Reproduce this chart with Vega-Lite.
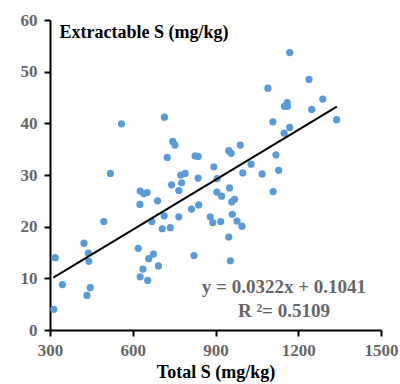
{
  "$schema": "https://vega.github.io/schema/vega-lite/v6.json",
  "autosize": "none",
  "width": 331,
  "height": 310,
  "padding": {"left": 50, "top": 20, "right": 19, "bottom": 54},
  "background": "white",
  "config": {
    "view": {"stroke": null},
    "font": "Liberation Serif",
    "axis": {
      "grid": false,
      "domainColor": "black",
      "domainWidth": 2,
      "tickColor": "black",
      "tickWidth": 2,
      "tickSize": 6,
      "labelFont": "Liberation Serif",
      "labelFontSize": 17,
      "labelFontWeight": "bold",
      "labelColor": "#666666",
      "titleFont": "Liberation Serif",
      "titleFontSize": 18,
      "titleFontWeight": "bold",
      "titleColor": "black"
    }
  },
  "layer": [
    {
      "data": {"values": [
        {"totalS": 559, "extS": 39.9}, {"totalS": 715, "extS": 41.2}, {"totalS": 745, "extS": 36.5},
        {"totalS": 753, "extS": 35.8}, {"totalS": 725, "extS": 33.4}, {"totalS": 519, "extS": 30.3},
        {"totalS": 826, "extS": 33.7}, {"totalS": 837, "extS": 33.6}, {"totalS": 837, "extS": 29.4},
        {"totalS": 774, "extS": 30.0}, {"totalS": 790, "extS": 30.3}, {"totalS": 741, "extS": 28.1},
        {"totalS": 777, "extS": 28.5}, {"totalS": 767, "extS": 27.0}, {"totalS": 627, "extS": 26.9},
        {"totalS": 652, "extS": 26.6}, {"totalS": 640, "extS": 26.4}, {"totalS": 690, "extS": 25.0},
        {"totalS": 1169, "extS": 53.7}, {"totalS": 1239, "extS": 48.5}, {"totalS": 1090, "extS": 46.8},
        {"totalS": 1289, "extS": 44.7}, {"totalS": 1160, "extS": 44.0}, {"totalS": 1150, "extS": 43.3},
        {"totalS": 1161, "extS": 43.3}, {"totalS": 1249, "extS": 42.7}, {"totalS": 1339, "extS": 40.7},
        {"totalS": 1108, "extS": 40.3}, {"totalS": 1169, "extS": 39.2}, {"totalS": 1149, "extS": 38.1},
        {"totalS": 990, "extS": 35.8}, {"totalS": 948, "extS": 34.7}, {"totalS": 957, "extS": 34.2},
        {"totalS": 1119, "extS": 33.9}, {"totalS": 1029, "extS": 32.1}, {"totalS": 894, "extS": 31.6},
        {"totalS": 999, "extS": 30.4}, {"totalS": 1069, "extS": 30.2}, {"totalS": 1129, "extS": 30.9},
        {"totalS": 906, "extS": 29.3}, {"totalS": 951, "extS": 27.5}, {"totalS": 905, "extS": 26.7},
        {"totalS": 922, "extS": 25.9}, {"totalS": 1109, "extS": 26.8}, {"totalS": 969, "extS": 25.3},
        {"totalS": 959, "extS": 24.8}, {"totalS": 626, "extS": 24.3}, {"totalS": 495, "extS": 21.0},
        {"totalS": 669, "extS": 21.0}, {"totalS": 714, "extS": 22.1}, {"totalS": 707, "extS": 19.6},
        {"totalS": 736, "extS": 19.8}, {"totalS": 767, "extS": 21.9}, {"totalS": 813, "extS": 23.4},
        {"totalS": 839, "extS": 24.2}, {"totalS": 423, "extS": 16.8}, {"totalS": 319, "extS": 14.0},
        {"totalS": 439, "extS": 14.9}, {"totalS": 441, "extS": 13.3}, {"totalS": 620, "extS": 15.8},
        {"totalS": 675, "extS": 14.7}, {"totalS": 658, "extS": 13.8}, {"totalS": 637, "extS": 11.8},
        {"totalS": 627, "extS": 10.3}, {"totalS": 654, "extS": 9.6}, {"totalS": 693, "extS": 12.4},
        {"totalS": 822, "extS": 14.4}, {"totalS": 345, "extS": 8.8}, {"totalS": 446, "extS": 8.2},
        {"totalS": 434, "extS": 6.7}, {"totalS": 314, "extS": 4.0}, {"totalS": 881, "extS": 21.9},
        {"totalS": 890, "extS": 20.8}, {"totalS": 919, "extS": 21.0}, {"totalS": 961, "extS": 22.4},
        {"totalS": 978, "extS": 21.1}, {"totalS": 996, "extS": 20.1}, {"totalS": 948, "extS": 18.0},
        {"totalS": 954, "extS": 13.4}
      ]},
      "mark": {"type": "circle", "size": 52, "color": "#5B9BD5", "opacity": 1},
      "encoding": {
        "x": {
          "field": "totalS", "type": "quantitative",
          "scale": {"domain": [300, 1500], "nice": false, "zero": false},
          "axis": {
            "values": [300, 600, 900, 1200, 1500], "format": "d", "labelFlush": false,
            "title": "Total S (mg/kg)", "labelPadding": 6, "titlePadding": 5
          }
        },
        "y": {
          "field": "extS", "type": "quantitative",
          "scale": {"domain": [0, 60], "nice": false},
          "axis": {
            "values": [0, 10, 20, 30, 40, 50, 60], "format": "d",
            "title": "Extractable S (mg/kg)",
            "titleAngle": 0, "titleX": 9, "titleY": 17,
            "titleAlign": "left", "titleBaseline": "alphabetic",
            "labelPadding": 7
          }
        }
      }
    },
    {
      "data": {"values": [{"totalS": 312, "extS": 10.15}, {"totalS": 1340, "extS": 43.25}]},
      "mark": {"type": "line", "color": "black", "strokeWidth": 2},
      "encoding": {
        "x": {"field": "totalS", "type": "quantitative"},
        "y": {"field": "extS", "type": "quantitative"}
      }
    },
    {
      "data": {"values": [
        {"totalS": 1148, "extS": 7.16, "label": "y = 0.0322x + 0.1041"},
        {"totalS": 1148, "extS": 2.52, "label": "R ²= 0.5109"}
      ]},
      "mark": {"type": "text", "font": "Liberation Serif", "fontSize": 19, "fontWeight": "bold", "color": "#666666", "align": "center", "baseline": "alphabetic"},
      "encoding": {
        "x": {"field": "totalS", "type": "quantitative"},
        "y": {"field": "extS", "type": "quantitative"},
        "text": {"field": "label"}
      }
    }
  ]
}
